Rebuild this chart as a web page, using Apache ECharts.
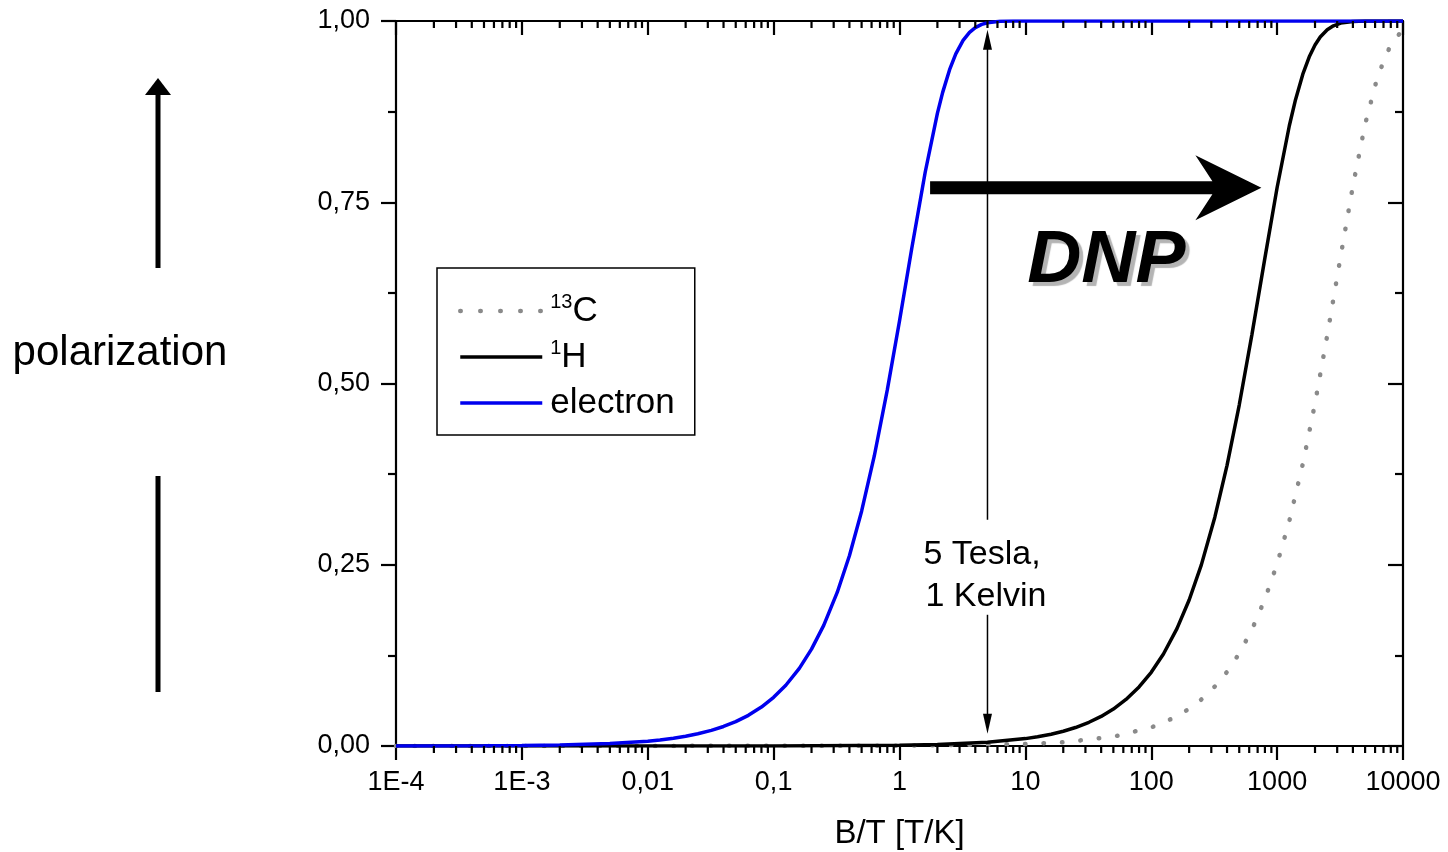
<!DOCTYPE html>
<html>
<head>
<meta charset="utf-8">
<script src="https://cdn.jsdelivr.net/npm/echarts@6/dist/echarts.min.js"></script>
<style>
  html, body { margin: 0; padding: 0; background: #fff; }
  #chart { width: 1448px; height: 852px; }
</style>
</head>
<body>
<div id="chart"></div>
<script>
const FONT = '"Liberation Sans", Arial, Helvetica, sans-serif';

// Axis tick labels (decimal comma notation)
const xTickLabels = ['1E-4', '1E-3', '0,01', '0,1', '1', '10', '100', '1000', '10000'];
const yTickLabels = ['0,00', '0,25', '0,50', '0,75', '1,00'];
const seriesNames = ['13C', '1H', 'electron'];

// 13C nuclear polarization vs. B/T
const carbonB = [1e-4, 1, 10, 20, 50, 100, 125, 160, 200, 250, 320, 400, 500, 630, 800,
  1000, 1250, 1600, 2000, 2500, 3200, 4000, 5000, 6300, 8000, 10000];
const carbonP = [0, 0.0003, 0.0026, 0.0051, 0.0128, 0.0257, 0.0321, 0.0411, 0.0513, 0.0641, 0.0820,
  0.1023, 0.1277, 0.1603, 0.2026, 0.2512, 0.3103, 0.3891, 0.4726, 0.5662, 0.6759, 0.7727,
  0.8575, 0.9242, 0.9676, 0.9883];

// 1H nuclear polarization vs. B/T
const protonB = [1e-4, 0.01, 0.1, 1, 2, 5, 10, 12.5, 16, 20, 25, 32, 40, 50, 63, 80,
  100, 125, 160, 200, 250, 320, 400, 500, 630, 800, 1000, 1250, 1400, 1600, 1800, 2000,
  2200, 2500, 2800, 3200, 4000, 5000, 10000];
const protonP = [0, 0, 0.0001, 0.0010, 0.0020, 0.0051, 0.0102, 0.0128, 0.0163, 0.0204, 0.0255,
  0.0327, 0.0408, 0.0510, 0.0642, 0.0815, 0.1017, 0.1269, 0.1619, 0.2014, 0.2498, 0.3156,
  0.3871, 0.4703, 0.5671, 0.6733, 0.7703, 0.8555, 0.8915, 0.9266, 0.9506, 0.9669,
  0.9779, 0.9879, 0.9934, 0.9971, 0.9994, 0.9999, 1];

// Electron spin polarization vs. B/T
const electronB = [1e-4, 2e-4, 5e-4, 1e-3, 2e-3, 5e-3, 0.01, 0.0125, 0.016, 0.02, 0.025, 0.032,
  0.04, 0.05, 0.063, 0.08, 0.1, 0.125, 0.16, 0.2, 0.25, 0.32, 0.4, 0.5, 0.63, 0.8, 1, 1.25,
  1.6, 2, 2.2, 2.5, 2.8, 3.2, 3.6, 4, 4.5, 5, 6.3, 8, 10, 100, 1000, 10000];
const electronP = [0.0001, 0.0001, 0.0003, 0.0007, 0.0013, 0.0034, 0.0067, 0.0084, 0.0108, 0.0134,
  0.0168, 0.0215, 0.0269, 0.0336, 0.0423, 0.0537, 0.0671, 0.0838, 0.1071, 0.1336, 0.1664,
  0.2118, 0.2625, 0.3239, 0.3997, 0.4912, 0.5863, 0.6858, 0.7914, 0.8726, 0.9012, 0.9329,
  0.9546, 0.9732, 0.9843, 0.9908, 0.9953, 0.9976, 0.9996, 0.9999, 1, 1, 1, 1];

// Annotation anchors in data coordinates
const fieldMarkB = 5;                 // 5 Tesla, 1 Kelvin
const fieldMarkTop = 0.988;
const fieldMarkBottom = 0.017;
const fieldTextTop = 0.312;
const fieldTextBottom = 0.181;
const fieldTextMid = 0.235;
const dnpArrowFrom = [1.75, 0.770];
const dnpArrowTo = [750, 0.770];
const dnpTextAt = [44, 0.668];

function pairs(xs, ys) { return xs.map((x, i) => [x, ys[i]]); }

// Logarithmic minor tick positions (2..9 within each decade)
const minorTickValues = [];
for (let e = -4; e < 4; e++) {
  for (let m = 2; m <= 9; m++) minorTickValues.push([m * Math.pow(10, e), 0]);
}

const axisColor = '#000';
const lineW = 2.2;
const colors = { carbon: '#8a8a8a', proton: '#000', electron: '#0000ee' };

function logAxis(position, isMain) {
  return {
    type: 'log', logBase: 10, min: 1e-4, max: 1e4, splitNumber: 8,
    position: position,
    axisLine: { show: true, onZero: false, lineStyle: { color: axisColor, width: lineW } },
    axisTick: { show: true, inside: !isMain, length: 14, lineStyle: { color: axisColor, width: lineW } },
    minorTick: { show: false },
    splitLine: { show: false },
    axisLabel: {
      show: isMain, margin: 23, color: '#000', fontSize: 27, fontFamily: FONT,
      formatter: v => xTickLabels[Math.round(Math.log10(v)) + 4]
    },
    name: isMain ? 'B/T [T/K]' : '',
    nameLocation: 'middle', nameGap: 71,
    nameTextStyle: { color: '#000', fontSize: 33, fontFamily: FONT }
  };
}

function valAxis(position, isMain) {
  return {
    type: 'value', min: 0, max: 1, interval: 0.25, position: position,
    axisLine: { show: true, onZero: false, lineStyle: { color: axisColor, width: lineW } },
    axisTick: { show: true, inside: !isMain, length: 15, lineStyle: { color: axisColor, width: lineW } },
    minorTick: { show: true, splitNumber: 2, length: 8, lineStyle: { color: axisColor, width: lineW } },
    splitLine: { show: false },
    axisLabel: {
      show: isMain, margin: 26, color: '#000', fontSize: 27, fontFamily: FONT,
      formatter: v => yTickLabels[Math.round(v / 0.25)]
    }
  };
}

const chart = echarts.init(document.getElementById('chart'), null, { renderer: 'canvas' });

const option = {
  animation: false,
  backgroundColor: '#fff',
  textStyle: { fontFamily: FONT },
  grid: { left: 396, right: 45, top: 21, bottom: 106, containLabel: false, outerBoundsMode: 'none' },
  xAxis: [logAxis('bottom', true), logAxis('top', false)],
  yAxis: [valAxis('left', true), valAxis('right', false)],
  legend: {
    data: [
      { name: seriesNames[0], lineStyle: { color: colors.carbon, width: 4.5, type: [0.5, 19.5], cap: 'round' } },
      { name: seriesNames[1], lineStyle: { color: colors.proton, width: 3.5 } },
      { name: seriesNames[2], lineStyle: { color: colors.electron, width: 3.5 } }
    ],
    orient: 'vertical',
    left: 437, top: 268,
    padding: [24, 20, 13, 21],
    itemWidth: 82, itemHeight: 2, itemGap: 8,
    itemStyle: { opacity: 0 },
    borderColor: '#000', borderWidth: 1.5, borderRadius: 0,
    backgroundColor: '#fff',
    selectedMode: false,
    textStyle: {
      color: '#000', fontSize: 35, fontFamily: FONT, lineHeight: 38, padding: [0, 0, 0, 3],
      rich: {
        sup: { fontSize: 20, fontFamily: FONT, color: '#000', lineHeight: 20, verticalAlign: 'top' },
        base: { fontSize: 35, fontFamily: FONT, color: '#000', lineHeight: 38 }
      }
    },
    formatter: name => {
      const m = /^(\d+)(\D+)$/.exec(name);
      return m ? '{sup|' + m[1] + '}{base|' + m[2] + '}' : name;
    }
  },
  series: [
    {
      name: seriesNames[0], type: 'line', data: pairs(carbonB, carbonP),
      symbol: 'none', showSymbol: false,
      itemStyle: { color: colors.carbon },
      lineStyle: { color: colors.carbon, width: 4.5, type: [0.5, 18], cap: 'round' },
      z: 2
    },
    {
      name: seriesNames[1], type: 'line', data: pairs(protonB, protonP),
      symbol: 'none', showSymbol: false,
      itemStyle: { color: colors.proton },
      lineStyle: { color: colors.proton, width: 3.5 },
      z: 3
    },
    {
      name: seriesNames[2], type: 'line', data: pairs(electronB, electronP),
      symbol: 'none', showSymbol: false,
      itemStyle: { color: colors.electron },
      lineStyle: { color: colors.electron, width: 3.5 },
      z: 4
    },
    {
      // logarithmic minor ticks on bottom (outward) and top (inward) axes
      type: 'custom', name: 'minorTicks', silent: true, clip: false, z: 10,
      data: minorTickValues,
      renderItem: (params, api) => {
        const cs = params.coordSys;
        const x = api.coord([api.value(0), 0])[0];
        const st = { stroke: axisColor, lineWidth: lineW };
        return {
          type: 'group',
          children: [
            { type: 'line', shape: { x1: x, y1: cs.y + cs.height, x2: x, y2: cs.y + cs.height + 7 }, style: st },
            { type: 'line', shape: { x1: x, y1: cs.y, x2: x, y2: cs.y + 7 }, style: st }
          ]
        };
      }
    }
  ]
};

chart.setOption(option);

// Annotations positioned through the chart's own scales
const toPx = p => chart.convertToPixel({ xAxisIndex: 0, yAxisIndex: 0 }, p);

const mTop = toPx([fieldMarkB, fieldMarkTop]);
const mBot = toPx([fieldMarkB, fieldMarkBottom]);
const tTop = toPx([fieldMarkB, fieldTextTop]);
const tBot = toPx([fieldMarkB, fieldTextBottom]);
const tMid = toPx([fieldMarkB, fieldTextMid]);
const headW = 4.5, headL = 20;
const ax = mTop[0];

const aFrom = toPx(dnpArrowFrom);
const aTo = toPx(dnpArrowTo);
const ay = aTo[1], x0 = aFrom[0], xt = aTo[0];
const shaftH = 6.5, barbH = 32.5, barbBack = 66, notch = 49;

const dnpPos = toPx(dnpTextAt);

chart.setOption({
  graphic: [
    // vertical field marker with arrowheads
    { type: 'line', silent: true, z: 20,
      shape: { x1: ax, y1: tTop[1], x2: ax, y2: mTop[1] + headL - 2 },
      style: { stroke: '#000', lineWidth: 1.5 } },
    { type: 'polygon', silent: true, z: 20,
      shape: { points: [[ax, mTop[1]], [ax - headW, mTop[1] + headL], [ax + headW, mTop[1] + headL]] },
      style: { fill: '#000' } },
    { type: 'line', silent: true, z: 20,
      shape: { x1: ax, y1: tBot[1], x2: ax, y2: mBot[1] - headL + 2 },
      style: { stroke: '#000', lineWidth: 1.5 } },
    { type: 'polygon', silent: true, z: 20,
      shape: { points: [[ax, mBot[1]], [ax - headW, mBot[1] - headL], [ax + headW, mBot[1] - headL]] },
      style: { fill: '#000' } },
    { type: 'text', silent: true, z: 20,
      style: { text: '5 Tesla,', x: ax - 64, y: tMid[1] - 21, align: 'left', verticalAlign: 'middle',
        fontSize: 34, fontFamily: FONT, fill: '#000' } },
    { type: 'text', silent: true, z: 20,
      style: { text: '1 Kelvin', x: ax - 62, y: tMid[1] + 21, align: 'left', verticalAlign: 'middle',
        fontSize: 34, fontFamily: FONT, fill: '#000' } },

    // DNP arrow
    { type: 'polygon', silent: true, z: 21,
      shape: { points: [
        [x0, ay - shaftH], [xt - notch, ay - shaftH], [xt - barbBack, ay - barbH], [xt, ay],
        [xt - barbBack, ay + barbH], [xt - notch, ay + shaftH], [x0, ay + shaftH]
      ] },
      style: { fill: '#000' } },
    { type: 'text', silent: true, z: 21,
      style: { text: 'DNP', x: dnpPos[0], y: dnpPos[1], align: 'center', verticalAlign: 'middle',
        font: 'italic bold 75px ' + FONT, fill: '#000',
        textShadowColor: '#b4b4b4', textShadowOffsetX: 4, textShadowOffsetY: 4, textShadowBlur: 1 } },

    // vertical axis title with its arrow
    { type: 'line', silent: true,
      shape: { x1: 158, y1: 268, x2: 158, y2: 92 },
      style: { stroke: '#000', lineWidth: 5 } },
    { type: 'polygon', silent: true,
      shape: { points: [[158, 78], [145, 95], [171, 95]] },
      style: { fill: '#000' } },
    { type: 'line', silent: true,
      shape: { x1: 158, y1: 476, x2: 158, y2: 692 },
      style: { stroke: '#000', lineWidth: 5 } },
    { type: 'text', silent: true,
      style: { text: 'polarization', x: 120, y: 353, align: 'center', verticalAlign: 'middle',
        fontSize: 42, fontFamily: FONT, fill: '#000' } }
  ]
});
</script>
</body>
</html>
